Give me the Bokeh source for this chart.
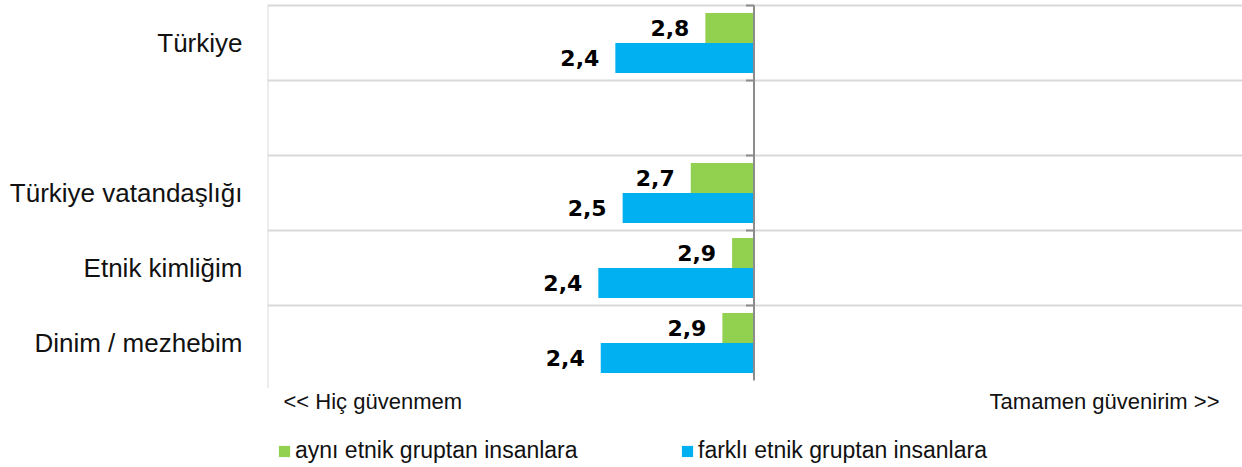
from bokeh.plotting import figure
from bokeh.models import Range1d, Label, Legend, LegendItem, ColumnDataSource, FixedTicker
from bokeh.transform import dodge
from bokeh.core.properties import value
from bokeh.embed import file_html
from bokeh.resources import INLINE

# ---- data ----
categories = ["Türkiye", " ", "Türkiye vatandaşlığı", "Etnik kimliğim", "Dinim / mezhebim"]
bar_categories = ["Türkiye", "Türkiye vatandaşlığı", "Etnik kimliğim", "Dinim / mezhebim"]
same_group = [2.80, 2.74, 2.91, 2.87]
other_group = [2.43, 2.46, 2.36, 2.37]
series_names = ["aynı etnik gruptan insanlara", "farklı etnik gruptan insanlara"]
scale_labels = ["<< Hiç güvenmem", "Tamamen güvenirim >>"]
midpoint = 3
scale_min = 1

GREEN = "#92D050"
BLUE = "#00B0F0"
GRID = "#D9D9D9"
AXIS = "#8C8C8C"
TEXT = "#111111"


def fmt(v):
    return f"{v:.1f}".replace(".", ",")


n = len(categories)
pos = {c: n - 0.5 - i for i, c in enumerate(categories)}   # row centres, top row highest

src = ColumnDataSource(dict(
    y=[pos[c] for c in bar_categories],
    same=same_group,
    other=other_group,
    same_lbl=[fmt(v) for v in same_group],
    other_lbl=[fmt(v) for v in other_group],
))

# ---- layout (pixels) ----
W, H = 1242, 467
FL = 267                 # frame left
PX_X = 243.25            # px per scale unit
ROW = 75                 # px per category row
TOP = 5                  # px above first row
x_end = scale_min + (W - FL) / PX_X
y_end = n + TOP / ROW
y_start = y_end - H / ROW

p = figure(width=W, height=H,
           x_range=Range1d(scale_min, x_end), y_range=Range1d(y_start, y_end),
           output_backend="svg", toolbar_location=None,
           min_border_left=FL, min_border_right=0, min_border_top=0,
           min_border_bottom=0, outline_line_color=None, title=None)

p.xaxis.visible = False
p.xgrid.grid_line_color = None
p.ygrid.grid_line_color = None
p.yaxis.ticker = FixedTicker(ticks=[pos[c] for c in categories])
p.yaxis.major_label_overrides = {pos[c]: c for c in categories}
p.yaxis.axis_line_color = None
p.yaxis.major_tick_line_color = None
p.yaxis.minor_tick_line_color = None
p.yaxis.major_tick_out = 0
p.yaxis.major_tick_in = 0
p.yaxis.major_label_standoff = 25
p.yaxis.major_label_text_font = "Liberation Sans"
p.yaxis.major_label_text_font_size = "26px"
p.yaxis.major_label_text_color = TEXT

# row boundaries and left frame edge
bounds = list(range(1, n + 1))
p.segment(x0=[scale_min] * n, x1=[x_end] * n, y0=bounds, y1=bounds,
          line_color=GRID, line_width=2)
p.segment(x0=[scale_min], x1=[scale_min], y0=[-0.1], y1=[n], line_color=GRID, line_width=2)

r_same = p.hbar(y=dodge("y", 0.2), left=midpoint, right="same",
                height=0.4, fill_color=GREEN, line_color=None, source=src)
r_other = p.hbar(y=dodge("y", -0.2), left=midpoint, right="other",
                 height=0.4, fill_color=BLUE, line_color=None, source=src)

lbl_kw = dict(text_align="right", text_baseline="middle", x_offset=-16,
              text_font=value("DejaVu Sans"), text_font_style="bold",
              text_font_size="22px", text_color="black", source=src)
p.text(x="same", y=dodge("y", 0.2), text="same_lbl", **lbl_kw)
p.text(x="other", y=dodge("y", -0.2), text="other_lbl", **lbl_kw)

# centre axis line with outward ticks
p.segment(x0=[midpoint], x1=[midpoint], y0=[0], y1=[n], line_color=AXIS, line_width=2)
tick_len = 8 / PX_X
p.segment(x0=[midpoint - tick_len] * n, x1=[midpoint] * n, y0=bounds, y1=bounds,
          line_color=AXIS, line_width=2)

# scale end labels
p.add_layout(Label(x=16, y=66, x_units="screen", y_units="screen", text=scale_labels[0],
                   text_font="Liberation Sans", text_font_size="22px",
                   text_baseline="alphabetic", text_color=TEXT))
p.add_layout(Label(x=952, y=66, x_units="screen", y_units="screen", text=scale_labels[1],
                   text_font="Liberation Sans", text_font_size="22px", text_align="right",
                   text_baseline="alphabetic", text_color=TEXT))

# legends
for name, rend, lx in [(series_names[0], r_same, 10), (series_names[1], r_other, 413)]:
    leg = Legend(items=[LegendItem(label=name, renderers=[rend])], location=(lx, 3),
                 padding=0, margin=0, spacing=0, border_line_alpha=0, background_fill_alpha=0,
                 glyph_width=14, glyph_height=14, label_height=14, label_standoff=4,
                 label_text_font="Liberation Sans", label_text_font_size="23px",
                 label_text_color=TEXT)
    p.add_layout(leg)

open("out.html", "w").write(file_html(p, INLINE))
